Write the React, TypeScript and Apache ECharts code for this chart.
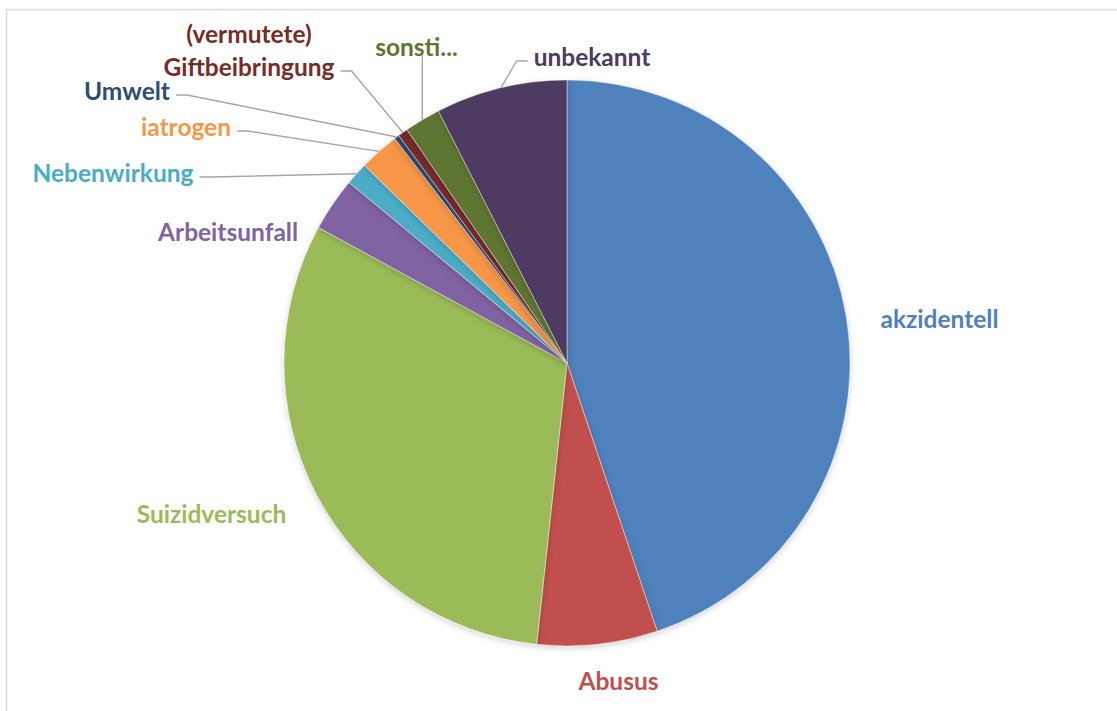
import React, { useEffect, useRef } from "react";
import * as echarts from "echarts";

// Categories and their shares (percent)
const categories = [
  "akzidentell",
  "Abusus",
  "Suizidversuch",
  "Arbeitsunfall",
  "Nebenwirkung",
  "iatrogen",
  "Umwelt",
  "(vermutete) Giftbeibringung",
  "sonsti...",
  "unbekannt",
];
const shares = [44.84, 6.87, 31.23, 3.07, 1.29, 2.28, 0.28, 0.57, 2.06, 7.51];

// Styles (kept apart from data)
const colors = [
  "#4F81BD",
  "#C0504D",
  "#9BBB59",
  "#8064A2",
  "#4BACC6",
  "#F79646",
  "#2C4D75",
  "#772C2A",
  "#5F7530",
  "#4D3B62",
];
const hasLeader = [false, false, false, false, true, true, true, true, true, true];
// Label centres (layout)
const labelCenters: [number, number][] = [
  [939.5, 318],
  [618.5, 680],
  [211.5, 513],
  [228, 231],
  [113, 172],
  [186, 126],
  [127, 90],
  [249, 49.5],
  [416.5, 46],
  [592, 56],
];

const CX = 567;
const CY = 363;
const R = 283;
const LINE_H = 33;

export default function App() {
  const ref = useRef<HTMLDivElement>(null);

  useEffect(() => {
    if (!ref.current) return;
    const chart = echarts.init(ref.current, undefined, { renderer: "svg" });
    const total = shares.reduce((a, b) => a + b, 0);
    const midAngles: number[] = [];
    let cum = 0;
    shares.forEach((v) => {
      midAngles.push(((cum + v / 2) / total) * Math.PI * 2);
      cum += v;
    });

    const data = categories.map((name, i) => ({
      name,
      value: shares[i],
      itemStyle: { color: colors[i] },
      label: { color: colors[i] },
      labelLine: { show: hasLeader[i] },
    }));

    chart.setOption({
      animation: false,
      backgroundColor: "#ffffff",
      graphic: [
        {
          type: "rect",
          silent: true,
          shape: { x: 6.5, y: 9.5, width: 1300, height: 900 },
          style: { fill: "none", stroke: "#D9D9D9", lineWidth: 1.5 },
        },
      ],
      series: [
        {
          type: "pie",
          center: [CX, CY],
          radius: R,
          startAngle: 90,
          clockwise: true,
          avoidLabelOverlap: false,
          data,
          itemStyle: {
            borderColor: "#ffffff",
            borderWidth: 0.4,
            shadowBlur: 6,
            shadowOffsetY: 2,
            shadowColor: "rgba(0,0,0,0.18)",
          },
          label: {
            show: true,
            position: "outside",
            fontFamily: "Lato",
            fontWeight: "bold",
            fontSize: 24.5,
            lineHeight: LINE_H,
            align: "center",
            formatter: (p: any) => String(p.name).replace(") ", ")\n"),
          },
          labelLine: {
            show: true,
            length: 10,
            length2: 10,
            lineStyle: { color: "#A6A6A6", width: 1.4 },
          },
          emphasis: { disabled: true },
          labelLayout: (params: any) => {
            const i = params.dataIndex;
            const [x, y] = labelCenters[i];
            const w = params.labelRect.width;
            const h = params.labelRect.height;
            const a = midAngles[i];
            const ax = CX + R * Math.sin(a);
            const ay = CY - R * Math.cos(a);
            let pts: number[][];
            if (ax >= x - w / 2 && ax <= x + w / 2) {
              const sy = y + 9;
              pts = [
                [ax, ay],
                [ax, (ay + sy) / 2],
                [ax, sy],
              ];
            } else {
              const sy = y + h / 2 - LINE_H / 2 + 5;
              const right = ax > x + w / 2;
              const sx = right ? x + w / 2 + 6 : x - w / 2 - 6;
              const ex = right ? sx + 11 : sx - 11;
              pts = [
                [ax, ay],
                [ex, sy],
                [sx, sy],
              ];
            }
            return {
              x,
              y,
              align: "center",
              verticalAlign: "middle",
              labelLinePoints: pts,
            };
          },
        },
      ],
    });
    return () => chart.dispose();
  }, []);

  return (
    <div
      ref={ref}
      style={{ position: "fixed", left: 0, top: 0, width: 1117, height: 711 }}
    />
  );
}
